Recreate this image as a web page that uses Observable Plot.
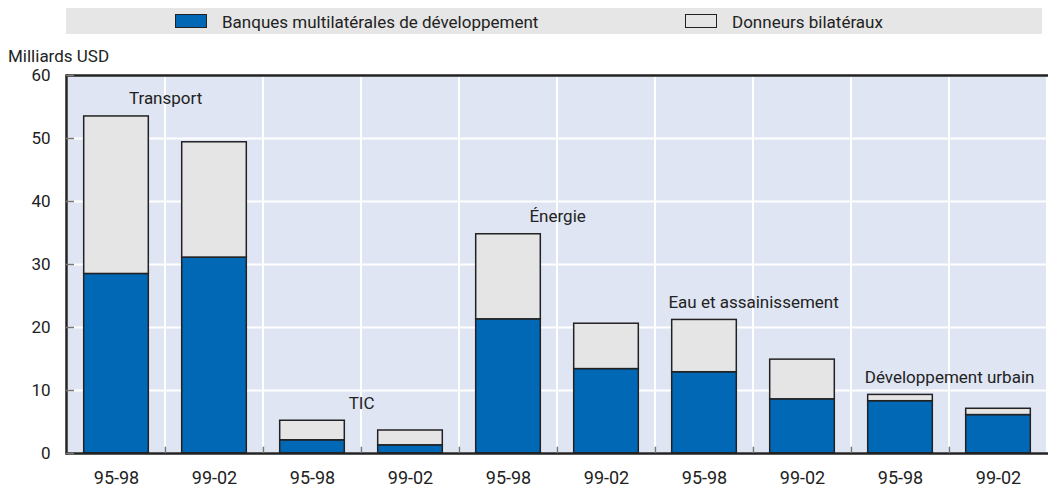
<!DOCTYPE html>
<html>
<head>
<meta charset="utf-8">
<script src="https://cdn.jsdelivr.net/npm/d3@7"></script>
<script src="https://cdn.jsdelivr.net/npm/@observablehq/plot@0.6"></script>
<style>
  html, body { margin: 0; padding: 0; background: #fff; }
  body { width: 1048px; height: 489px; position: relative; overflow: hidden; font-family: Roboto, "Liberation Sans", sans-serif; color: #222; }
  #legend { position: absolute; left: 66px; top: 8px; width: 976px; height: 26px; background: #e6e6e7; }
  .sw { position: absolute; top: 6px; width: 30px; height: 14px; border: 1px solid #222; box-sizing: border-box; }
  .lt { position: absolute; top: 4px; font-size: 17px; line-height: 20px; white-space: nowrap; }
  #ylabel { position: absolute; left: 8px; top: 46px; font-size: 17px; line-height: 20px; white-space: nowrap; }
  #chart { position: absolute; left: 0; top: 40px; }
</style>
</head>
<body>
<div id="legend"></div>
<div id="ylabel"></div>
<div id="chart"></div>
<script>
// ---- data ----
const sectors = ["Transport", "TIC", "Énergie", "Eau et assainissement", "Développement urbain"];
const periods = ["95-98", "99-02"];
const seriesNames = ["Banques multilatérales de développement", "Donneurs bilatéraux"];
// one value per sector × period, in order
const multilateral = [28.5, 31.1, 2.1, 1.3, 21.3, 13.4, 12.9, 8.6, 8.3, 6.1];
const bilateral    = [25.0, 18.3, 3.1, 2.35, 13.5, 7.2, 8.3, 6.3, 1.0, 1.0];
const yTicks = [0, 10, 20, 30, 40, 50, 60];
const yLabel = "Milliards USD";

// ---- styles ----
const blue = "#0068b5";
const grey = "#e5e5e6";
const bg = "#dfe5f3";
const ink = "#222";

// ---- legend ----
const legend = document.getElementById("legend");
const swatchX = [109, 619];
seriesNames.forEach((name, i) => {
  const sw = document.createElement("div");
  sw.className = "sw";
  sw.style.left = swatchX[i] + "px";
  sw.style.width = "32px";
  sw.style.background = i === 0 ? blue : grey;
  legend.appendChild(sw);
  const t = document.createElement("div");
  t.className = "lt";
  t.style.left = (swatchX[i] + 47) + "px";
  t.textContent = name;
  legend.appendChild(t);
});
document.getElementById("ylabel").textContent = yLabel;

// ---- tables ----
const keys = sectors.flatMap(s => periods.map(p => s + "|" + p));
const rows = keys.flatMap((k, i) => [
  {key: k, series: seriesNames[0], value: multilateral[i]},
  {key: k, series: seriesNames[1], value: bilateral[i]}
]);
const groups = sectors.map((s, j) => ({
  sector: s,
  first: keys[2 * j],
  top: Math.max(multilateral[2 * j] + bilateral[2 * j], multilateral[2 * j + 1] + bilateral[2 * j + 1])
}));

const width = 1048, height = 449;
const marginLeft = 66, marginRight = 0, marginTop = 35, marginBottom = 36;
const step = (width - marginLeft - marginRight) / keys.length;
const barInset = step * 0.17;

const chart = Plot.plot({
  width, height, marginLeft, marginRight, marginTop, marginBottom,
  style: {fontFamily: "Roboto, 'Liberation Sans', sans-serif", fontSize: "17px", color: ink, background: "transparent"},
  x: {type: "band", domain: keys, padding: 0, label: null},
  y: {domain: [0, 60], label: null},
  color: {domain: seriesNames, range: [blue, grey]},
  marks: [
    // plot background with white slot separators
    Plot.barY(keys, {x: d => d, y1: 0, y2: 60, fill: bg, stroke: "white", strokeWidth: 2}),
    Plot.gridY(yTicks, {stroke: "white", strokeOpacity: 1, strokeWidth: 2}),
    // stacked bars
    Plot.barY(rows, Plot.stackY({
      x: "key", y: "value", fill: "series", stroke: ink, strokeWidth: 1.5,
      insetLeft: barInset, insetRight: barInset
    })),
    // axes lines
    Plot.ruleY([60], {stroke: ink, strokeWidth: 2.5}),
    Plot.ruleY([0], {stroke: ink, strokeWidth: 2.5}),
    Plot.frame({anchor: "left", stroke: ink, strokeWidth: 2.5}),
    // small ticks at slot boundaries
    Plot.ruleX(keys.slice(1), {x: d => d, y1: 0, y2: 1, dx: -step / 2, stroke: "#777", strokeWidth: 1.5}),
    // y ticks inward
    Plot.axisY(yTicks, {tickSize: 8, dx: 8, tickFormat: () => "", label: null, stroke: "#777", strokeWidth: 1.5}),
    Plot.axisY(yTicks, {tickSize: 0, tickPadding: 16, label: null, fontSize: 17, fill: ink}),
    Plot.axisX({tickSize: 0, tickPadding: 18, label: null, fontSize: 18, fill: ink, tickFormat: k => k.split("|")[1]}),
    // sector labels
    Plot.text(groups, {x: "first", y: "top", text: "sector", dx: step / 2, dy: -12, lineAnchor: "bottom", fontSize: 17, fill: ink})
  ]
});
document.getElementById("chart").appendChild(chart);
</script>
</body>
</html>
